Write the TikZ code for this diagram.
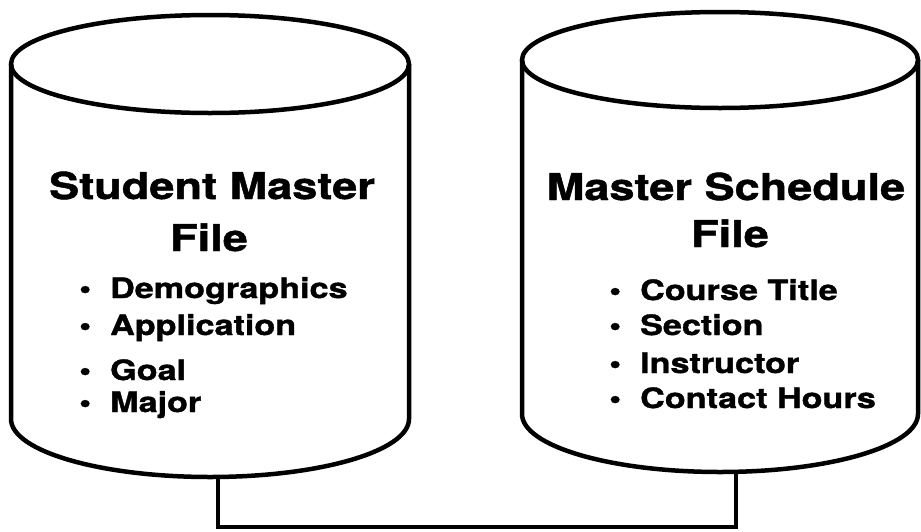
\documentclass[tikz,border=0pt]{standalone}
\usepackage{fontspec}
\setmainfont{TeX Gyre Heros}[FakeStretch=1.22,BoldFeatures={FakeBold=1.3}]
\usepackage{tikz}

\begin{document}
\begin{tikzpicture}[x=1pt,y=-1pt]
\tikzset{drum/.style={line width=4.5pt}}
\tikzset{link/.style={line width=3.5pt}}
\tikzset{title/.style={font=\bfseries\fontsize{37}{40}\selectfont,anchor=base,inner sep=0pt}}
\tikzset{entry/.style={font=\bfseries\fontsize{28}{30}\selectfont,anchor=base west,inner sep=0pt}}

\useasboundingbox (0,0) rectangle (921,531);

\draw[drum] (210,64) ellipse [x radius=199, y radius=49];
\draw[drum] (11,64) -- (11,419) arc [start angle=180, end angle=0, x radius=199, y radius=58] -- (409,64);

\draw[drum] (720,60) ellipse [x radius=198, y radius=48];
\draw[drum] (522,60) -- (522,414) arc [start angle=180, end angle=0, x radius=198, y radius=58] -- (918,60);

\coordinate (smfbot) at (218,476);
\coordinate (msfbot) at (736,471);

\draw[link] (smfbot) -- ++(0,51) -| (msfbot);

\node[title] (smftitle) at (212,199) {Student Master};
\node[title] (smffile) at (209,251) {File};
\node[title] (msftitle) at (726,200) {Master Schedule};
\node[title] (msffile) at (730,247) {File};

\foreach \txt/\y [count=\i] in {Demographics/298, Application/335, Goal/380, Major/412}
  \node[entry] (smfitem\i) at (79,\y) {\textbullet\hspace{19pt}\txt};

\foreach \txt/\y [count=\i] in {Course Title/300, Section/335, Instructor/373, Contact Hours/408}
  \node[entry] (msfitem\i) at (609,\y) {\textbullet\hspace{19pt}\txt};

\end{tikzpicture}
\end{document}
